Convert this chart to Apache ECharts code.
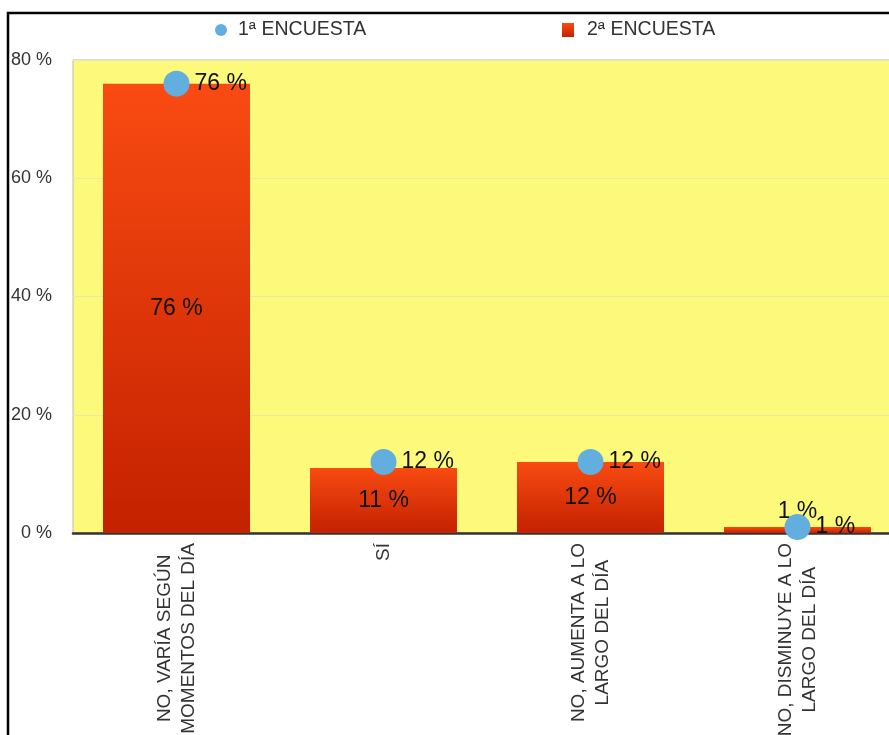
<!DOCTYPE html>
<html>
<head>
<meta charset="utf-8">
<style>
  html, body { margin: 0; padding: 0; background: #fff; }
  #chart { width: 889px; height: 735px; }
</style>
<script src="https://cdn.jsdelivr.net/npm/echarts@6/dist/echarts.min.js"></script>
</head>
<body>
<div id="chart"></div>
<script>
// Survey answers (categories on the x axis)
const categories = [
  'NO, VARÍA SEGÚN\nMOMENTOS DEL DÍA',
  'SÍ',
  'NO, AUMENTA A LO\nLARGO DEL DÍA',
  'NO, DISMINUYE A LO\nLARGO DEL DÍA'
];
// Percentages per survey
const encuesta1 = [76, 12, 12, 1];
const encuesta2 = [76, 11, 12, 1];
const seriesNames = ['1ª ENCUESTA', '2ª ENCUESTA'];
// Value axis range
const yMin = 0, yMax = 80, yStep = 20;

const FONT = 'Liberation Sans, Arial, sans-serif';
const chart = echarts.init(document.getElementById('chart'));

const barGradient = new echarts.graphic.LinearGradient(0, 0, 0, 1, [
  { offset: 0, color: '#F94B12' },
  { offset: 1, color: '#C32100' }
]);

chart.setOption({
  animation: false,
  backgroundColor: '#fff',
  graphic: [{
    type: 'rect',
    shape: { x: 8, y: 13, width: 1000, height: 1000 },
    style: { fill: 'none', stroke: '#000', lineWidth: 2.5 },
    silent: true
  }],
  legend: [{
    data: [seriesNames[0]],
    left: 210, top: 15,
    icon: 'circle', itemWidth: 24, itemHeight: 12,
    textStyle: { fontFamily: FONT, fontSize: 19.5, color: '#333' }
  }, {
    data: [seriesNames[1]],
    left: 557, top: 15,
    icon: 'rect', itemWidth: 12, itemHeight: 14,
    textStyle: { fontFamily: FONT, fontSize: 19.5, color: '#333', padding: [0, 0, 0, 8] }
  }],
  grid: {
    left: 73, top: 60, right: -12, bottom: 202,
    outerBoundsMode: 'none',
    containLabel: false,
    show: true, backgroundColor: '#FDF97A',
    borderColor: '#BBBBBB', borderWidth: 1
  },
  xAxis: {
    type: 'category',
    data: categories,
    axisLine: { lineStyle: { color: '#333', width: 2.5 } },
    axisTick: { show: false },
    axisLabel: {
      rotate: 90,
      margin: 10,
      interval: 0,
      hideOverlap: false,
      formatter: v => v.split('\n').map(s => '{c|' + s + '}').join('\n'),
      rich: {
        c: { align: 'center', fontFamily: FONT, fontSize: 19, color: '#333', lineHeight: 24 }
      }
    }
  },
  yAxis: {
    type: 'value',
    min: yMin, max: yMax, interval: yStep,
    axisLine: { show: false },
    axisTick: { show: false },
    splitLine: { lineStyle: { color: '#ECE9A4', width: 1 } },
    axisLabel: {
      formatter: '{value} %',
      margin: 21,
      fontFamily: FONT, fontSize: 18, color: '#333'
    }
  },
  series: [{
    name: seriesNames[1],
    type: 'bar',
    data: encuesta2.map((v, i) => i === encuesta2.length - 1
      ? { value: v, label: { position: 'top', distance: 4 } }
      : v),
    barWidth: 147,
    itemStyle: { color: barGradient },
    label: {
      show: true, position: 'inside',
      formatter: p => p.value + ' %',
      fontFamily: FONT, fontSize: 23, color: '#111'
    },
    z: 2
  }, {
    name: seriesNames[0],
    type: 'scatter',
    data: encuesta1,
    symbol: 'circle',
    symbolSize: 26,
    itemStyle: { color: '#62AEDE', opacity: 1 },
    label: {
      show: true, position: 'right', distance: 5,
      formatter: p => p.value + ' %',
      fontFamily: FONT, fontSize: 23, color: '#111'
    },
    z: 3
  }]
});
</script>
</body>
</html>
